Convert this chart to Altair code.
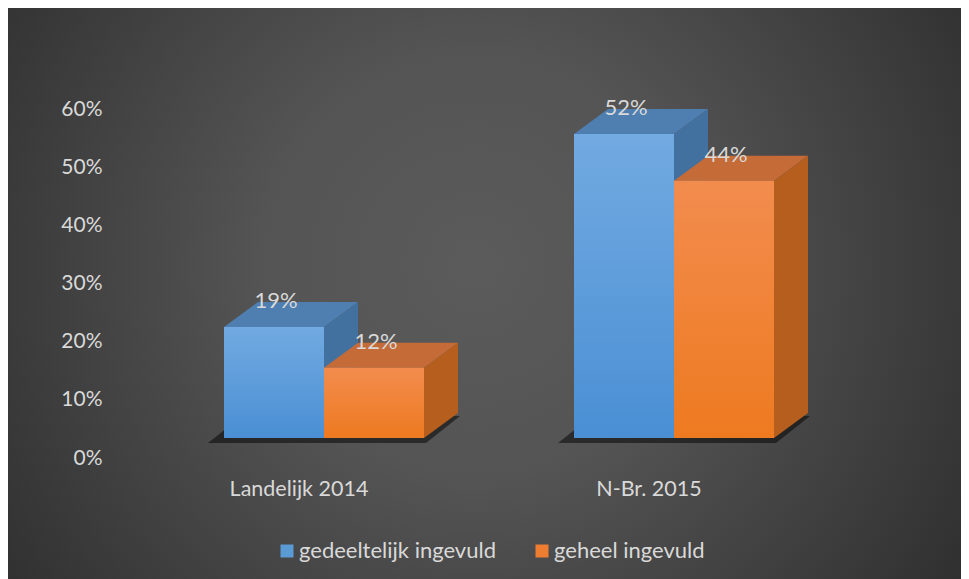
import altair as alt
import pandas as pd

# ---------------- data ----------------
categories = ["Landelijk 2014", "N-Br. 2015"]
series_names = ["gedeeltelijk ingevuld", "geheel ingevuld"]
gedeeltelijk = [0.19, 0.52]
geheel = [0.12, 0.44]
y_ticks = [0.0, 0.1, 0.2, 0.3, 0.4, 0.5, 0.6]

# ---------------- layout / 3D geometry ----------------
W, H = 790, 349
PAD = {"left": 102, "top": 101, "right": 61, "bottom": 140}
GROUP_PX = 350.0             # pixels between category centres
BAR_W = 100 / GROUP_PX       # bar width in category units
DX = 34 / GROUP_PX           # depth offset (x)
PX_Y = 584.6                 # pixels per 100% on the bar scale
DY = 25 / PX_Y               # depth offset (y)
X_DOMAIN = [-214 / GROUP_PX, 576 / GROUP_PX]
Y_BAR_DOMAIN = [-20 / PX_Y, 329 / PX_Y]
Y_AXIS_DOMAIN = [0, 0.6]
LABEL_SHIFT = -25 / GROUP_PX

FONT = "Lato"
TXT = "#d9d9d9"
FRONT = {"gedeeltelijk ingevuld": ["#72aae1", "#4a8fd4"], "geheel ingevuld": ["#f28c4e", "#ee7a20"]}
TOP = {"gedeeltelijk ingevuld": "#4f7eb0", "geheel ingevuld": "#c46b38"}
SIDE = {"gedeeltelijk ingevuld": "#42709f", "geheel ingevuld": "#b65e1e"}
LEGEND_COL = ["#5b9bd5", "#ed7d31"]

bars, tops, sides, floors = [], [], [], []
for i, cat in enumerate(categories):
    for j, (s, vals) in enumerate(zip(series_names, [gedeeltelijk, geheel])):
        v = vals[i]
        x0 = i + (j - 1) * BAR_W
        x1 = x0 + BAR_W
        bid = f"{i}-{j}"
        bars.append(dict(cat=cat, series=s, v=v, zero=0.0, x0=x0, x1=x1,
                         xc=x0 + BAR_W / 2 + 2 / GROUP_PX, label=f"{round(v * 100)}%"))
        tops.append(dict(bid=bid, series=s, y=v, xa=x0, xb=x1))
        tops.append(dict(bid=bid, series=s, y=v + DY, xa=x0 + DX, xb=x1 + DX))
        sides.append(dict(bid=bid, series=s, x=x1, ya=0.0, yb=v))
        sides.append(dict(bid=bid, series=s, x=x1 + DX, ya=DY, yb=v + DY))
    left = i - BAR_W - 16 / GROUP_PX
    right = i + BAR_W + 2 / GROUP_PX
    base = -5 / PX_Y
    floors.append(dict(bid=str(i), y=base, xa=left, xb=right))
    floors.append(dict(bid=str(i), y=base + DY + 2 / PX_Y, xa=left + DX, xb=right + DX))

bars_df = pd.DataFrame(bars)
tops_df = pd.DataFrame(tops)
sides_df = pd.DataFrame(sides)
floors_df = pd.DataFrame(floors)
cats_df = pd.DataFrame({"cat": categories, "xl": [i + LABEL_SHIFT for i in range(len(categories))]})
ticks_df = pd.DataFrame({"t": y_ticks})

xs = alt.Scale(domain=X_DOMAIN)
ys = alt.Scale(domain=Y_BAR_DOMAIN)

# ---------------- background ----------------
bg = alt.Chart(pd.DataFrame({"a": [0]})).mark_rect(
    color=alt.RadialGradient(
        gradient="radial",
        stops=[alt.GradientStop(offset=0, color="#5b5b5b"),
               alt.GradientStop(offset=0.3, color="#545454"),
               alt.GradientStop(offset=1, color="#222222")],
        x1=0.49, y1=0.46, r1=0, x2=0.49, y2=0.46, r2=0.75)
).encode(x=alt.value(-PAD["left"]), x2=alt.value(W + PAD["right"]),
         y=alt.value(-PAD["top"]), y2=alt.value(H + PAD["bottom"]))

# ---------------- y axis (labels only) ----------------
axis_layer = alt.Chart(ticks_df).mark_point(opacity=0).encode(
    y=alt.Y("t:Q", scale=alt.Scale(domain=Y_AXIS_DOMAIN),
            axis=alt.Axis(orient="left", values=y_ticks, format=".0%", labelFont=FONT,
                          labelFontSize=21, labelColor=TXT, domain=False, ticks=False,
                          grid=False, labelPadding=8, title=None, zindex=2))
)

# ---------------- floor shadow ----------------
shadow = alt.Chart(floors_df).mark_area(orient="horizontal", color="#000000", opacity=0.5).encode(
    y=alt.Y("y:Q", scale=ys, axis=None),
    x=alt.X("xa:Q", scale=xs, axis=None), x2="xb:Q", detail="bid:N")


def side_layer(s):
    return alt.Chart(sides_df).transform_filter(alt.datum.series == s).mark_area(
        orient="vertical", color=SIDE[s]).encode(
        x=alt.X("x:Q", scale=xs, axis=None),
        y=alt.Y("ya:Q", scale=ys, axis=None), y2="yb:Q", detail="bid:N")


def top_layer(s):
    return alt.Chart(tops_df).transform_filter(alt.datum.series == s).mark_area(
        orient="horizontal", color=TOP[s]).encode(
        y=alt.Y("y:Q", scale=ys, axis=None),
        x=alt.X("xa:Q", scale=xs, axis=None), x2="xb:Q", detail="bid:N")


def front_layer(s):
    c = FRONT[s]
    return alt.Chart(bars_df).transform_filter(alt.datum.series == s).mark_rect(
        color=alt.LinearGradient(gradient="linear",
                                 stops=[alt.GradientStop(offset=0, color=c[0]),
                                        alt.GradientStop(offset=1, color=c[1])],
                                 x1=0, x2=0, y1=0, y2=1)).encode(
        x=alt.X("x0:Q", scale=xs, axis=None), x2="x1:Q",
        y=alt.Y("v:Q", scale=ys, axis=None), y2="zero:Q")


legend_front = alt.Chart(bars_df).mark_rect().encode(
    x=alt.X("x0:Q", scale=xs, axis=None), x2="x1:Q",
    y=alt.Y("v:Q", scale=ys, axis=None), y2="zero:Q",
    fill=alt.Fill("series:N", scale=alt.Scale(domain=series_names, range=LEGEND_COL),
                  legend=alt.Legend(title=None, orient="none", legendX=166, legendY=431,
                                    direction="horizontal", symbolType="square",
                                    symbolSize=169, symbolStrokeWidth=0, symbolOpacity=1,
                                    labelFont=FONT, labelFontSize=22, labelColor=TXT,
                                    labelLimit=400, columnPadding=35, labelOffset=1,
                                    padding=0)))

labels = alt.Chart(bars_df).mark_text(font=FONT, fontSize=22, color=TXT, dy=-19,
                                      baseline="alphabetic", align="center").encode(
    x=alt.X("xc:Q", scale=xs, axis=None),
    y=alt.Y("v:Q", scale=ys, axis=None), text="label:N")

cat_labels = alt.Chart(cats_df).mark_text(font=FONT, fontSize=21.5, color=TXT,
                                          baseline="alphabetic", align="center").encode(
    x=alt.X("xl:Q", scale=xs, axis=None), y=alt.value(387), text="cat:N")

s0, s1 = series_names
chart = alt.layer(
    bg, axis_layer, shadow,
    side_layer(s0), top_layer(s0),
    legend_front, front_layer(s0),
    side_layer(s1), top_layer(s1), front_layer(s1),
    labels, cat_labels,
).resolve_scale(y="independent").properties(
    width=W, height=H, padding=PAD, autosize=alt.AutoSizeParams(type="none"),
    background="#262626",
).configure_view(stroke=None)

chart.save("out.html", embed_options={"renderer": "svg", "actions": False})
